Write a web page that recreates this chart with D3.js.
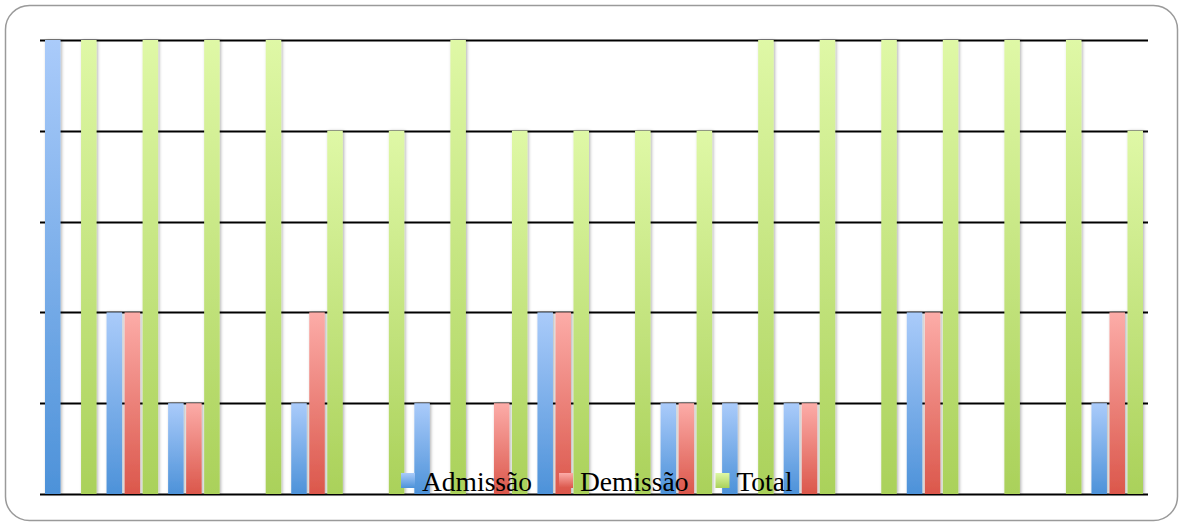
<!DOCTYPE html>
<html>
<head>
<meta charset="utf-8">
<script src="https://cdn.jsdelivr.net/npm/d3@7"></script>
<style>
  html, body { margin: 0; padding: 0; background: #fff; }
  svg { display: block; }
</style>
</head>
<body>
<svg id="chart" width="1180" height="525"></svg>
<script>
// Months/periods (no axis labels are shown on the chart)
const categories = ["1", "2", "3", "4", "5", "6", "7", "8", "9", "10", "11", "12", "13", "14", "15", "16", "17", "18"];
const seriesNames = ["Admissão", "Demissão", "Total"];
const admissao = [5, 2, 1, 0, 1, 0, 1, 0, 2, 0, 1, 1, 1, 0, 2, 0, 0, 1];
const demissao = [0, 2, 1, 0, 2, 0, 0, 1, 2, 0, 1, 0, 1, 0, 2, 0, 0, 2];
const total    = [5, 5, 5, 5, 4, 4, 5, 4, 4, 4, 4, 5, 5, 5, 5, 5, 5, 4];
const yTicks = [0, 1, 2, 3, 4, 5];

const seriesValues = [admissao, demissao, total];
const gradients = [
  { id: "g-adm", top: "#aacbfa", bottom: "#4d92d9" },
  { id: "g-dem", top: "#fcaca8", bottom: "#db574b" },
  { id: "g-tot", top: "#dff8a6", bottom: "#aad15a" }
];

const svg = d3.select("#chart");
const defs = svg.append("defs");

gradients.forEach(g => {
  const lg = defs.append("linearGradient")
    .attr("id", g.id).attr("x1", 0).attr("y1", 0).attr("x2", 0).attr("y2", 1);
  lg.append("stop").attr("offset", "0%").attr("stop-color", g.top);
  lg.append("stop").attr("offset", "100%").attr("stop-color", g.bottom);
});

const shadow = defs.append("filter").attr("id", "barShadow")
  .attr("x", "-60%").attr("y", "-5%").attr("width", "220%").attr("height", "110%");
shadow.append("feDropShadow")
  .attr("dx", 1.2).attr("dy", 0).attr("stdDeviation", 1.6)
  .attr("flood-color", "#000").attr("flood-opacity", 0.3);

// Chart frame
svg.append("rect")
  .attr("x", 5.5).attr("y", 5.5).attr("width", 1172).attr("height", 515)
  .attr("rx", 24).attr("ry", 24)
  .attr("fill", "#fff").attr("stroke", "#9a9a9a").attr("stroke-width", 1.5);

const plot = { left: 40, right: 1148, top: 40, bottom: 494 };

const x0 = d3.scaleBand().domain(categories).range([plot.left, plot.right]).padding(0);
const x1 = d3.scaleBand().domain(seriesNames)
  .range([5, x0.bandwidth() - 5]).paddingInner(0.14).paddingOuter(0);
const y = d3.scaleLinear().domain([0, 5]).range([plot.bottom, plot.top]);

// Horizontal gridlines
svg.append("g").selectAll("line").data(yTicks).join("line")
  .attr("x1", plot.left).attr("x2", plot.right)
  .attr("y1", d => Math.round(y(d)) + 0.5).attr("y2", d => Math.round(y(d)) + 0.5)
  .attr("stroke", "#000").attr("stroke-width", 2);

// Bars
const rows = categories.map((c, i) => ({
  cat: c,
  vals: seriesNames.map((s, k) => ({ s, k, v: seriesValues[k][i] }))
}));

const groups = svg.append("g").selectAll("g").data(rows).join("g")
  .attr("transform", d => `translate(${x0(d.cat)},0)`);

groups.selectAll("rect").data(d => d.vals.filter(e => e.v > 0)).join("rect")
  .attr("x", d => x1(d.s))
  .attr("width", x1.bandwidth())
  .attr("y", d => y(d.v))
  .attr("height", d => y(0) - y(d.v))
  .attr("fill", d => `url(#${gradients[d.k].id})`)
  .attr("filter", "url(#barShadow)");

// Legend, overlaid at the bottom of the plot
const legend = svg.append("g").attr("transform", "translate(401,0)");
let lx = 0;
seriesNames.forEach((name, k) => {
  legend.append("rect")
    .attr("x", lx).attr("y", 473).attr("width", 14).attr("height", 15)
    .attr("fill", `url(#${gradients[k].id})`);
  const t = legend.append("text")
    .attr("x", lx + 21).attr("y", 491)
    .attr("font-family", "'Liberation Serif', 'DejaVu Serif', serif")
    .attr("font-size", 27.5)
    .attr("fill", "#000")
    .text(name);
  lx += 21 + t.node().getComputedTextLength() + 27;
});
</script>
</body>
</html>
